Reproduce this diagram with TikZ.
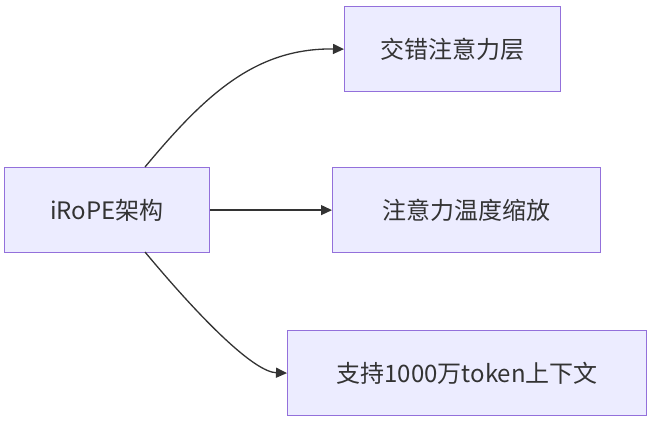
\documentclass[tikz,border=0pt]{standalone}
\usepackage{fontspec}
\setmainfont{Noto Sans CJK SC}
\usetikzlibrary{arrows.meta}
\definecolor{boxfill}{HTML}{ECECFF}
\definecolor{boxline}{HTML}{9370DB}
\definecolor{ink}{HTML}{333333}
\begin{document}
\begin{tikzpicture}[x=1pt,y=-1pt,
  box/.style={draw=boxline,fill=boxfill,line width=1.2pt,inner sep=0pt,anchor=north west,
    text=ink,font=\fontsize{24}{28}\selectfont},
  conn/.style={draw=ink,line width=1.3pt,-{Triangle[length=11pt,width=10pt]}}]
\useasboundingbox (0,0) rectangle (662,424);
\node[box,minimum width=205pt,minimum height=85pt] (a) at (4,167) {iRoPE架构};
\node[box,minimum width=216pt,minimum height=85pt] (b) at (344,6) {交错注意力层};
\node[box,minimum width=268pt,minimum height=85pt] (c) at (332,167) {注意力温度缩放};
\node[box,minimum width=359pt,minimum height=85pt] (d) at (287,330) {支持1000万token上下文};
\coordinate (at) at (145,167);
\coordinate (ab) at (145,252);
\draw[conn] (at) .. controls (205,95) and (255,48) .. (b.west);
\draw[conn] (a.east) -- (c.west);
\draw[conn] (ab) .. controls (205,324) and (255,372) .. (d.west);
\end{tikzpicture}
\end{document}
